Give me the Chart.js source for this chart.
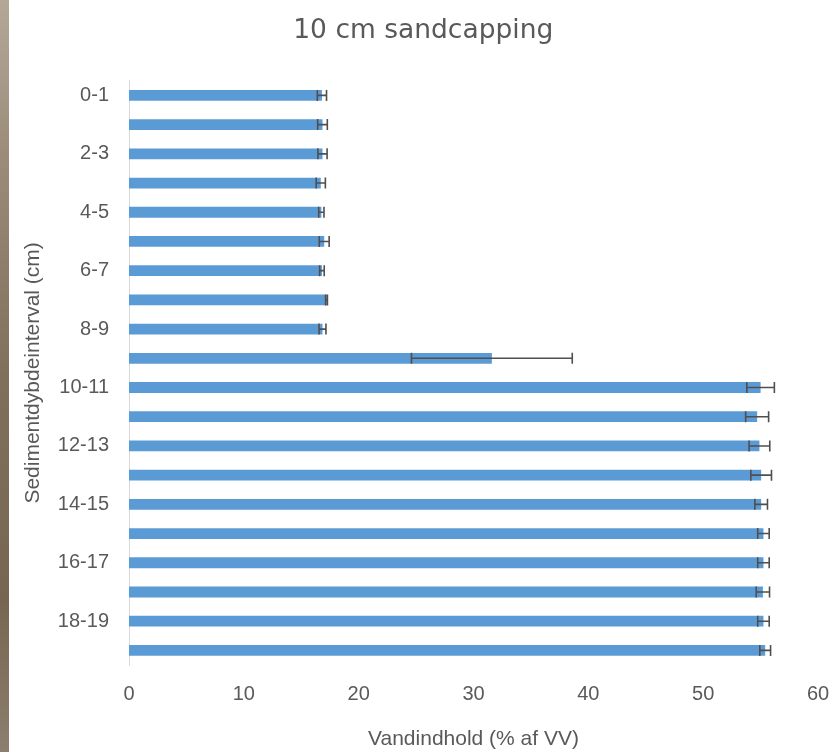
<!DOCTYPE html>
<html>
<head>
<meta charset="utf-8">
<script src="https://cdn.jsdelivr.net/npm/chart.js@4/dist/chart.umd.min.js"></script>
<style>
  html, body { margin: 0; padding: 0; background: #ffffff; }
  body { width: 836px; height: 752px; position: relative; overflow: hidden; }
  #strip { position: absolute; left: 0; top: 0; width: 9px; height: 752px;
    background: linear-gradient(to bottom, #b3a898 0%, #9c8d7a 20%, #7f705c 50%, #766651 80%, #8d7f6e 100%); }
  #wrap { position: absolute; left: 10px; top: 0; width: 826px; height: 752px; }
</style>
</head>
<body>
<div id="strip"></div>
<div id="wrap"><canvas id="c" width="826" height="752"></canvas></div>
<script>
// Data
const categories = ['0-1','1-2','2-3','3-4','4-5','5-6','6-7','7-8','8-9','9-10',
                    '10-11','11-12','12-13','13-14','14-15','15-16','16-17','17-18','18-19','19-20'];
const waterContent = [16.8, 16.85, 16.85, 16.7, 16.75, 17.0, 16.8, 17.2, 16.85, 31.6,
                      55.0, 54.7, 54.9, 55.05, 55.05, 55.25, 55.25, 55.2, 55.25, 55.4];
const errorValues = [0.4, 0.42, 0.4, 0.4, 0.23, 0.43, 0.2, 0.08, 0.3, 7.0,
                     1.2, 1.0, 0.9, 0.9, 0.55, 0.5, 0.5, 0.58, 0.5, 0.47];
const xTicks = [0, 10, 20, 30, 40, 50, 60];

const errorBarPlugin = {
  id: 'errorBars',
  afterDatasetsDraw(chart) {
    const ctx = chart.ctx;
    const xScale = chart.scales.x;
    const meta = chart.getDatasetMeta(0);
    ctx.save();
    ctx.strokeStyle = '#4f4f4f';
    ctx.lineWidth = 1.6;
    meta.data.forEach((bar, i) => {
      const v = waterContent[i], e = errorValues[i];
      const x1 = xScale.getPixelForValue(v - e);
      const x2 = xScale.getPixelForValue(v + e);
      const y = bar.y;
      const h = 5.5;
      ctx.beginPath();
      ctx.moveTo(x1, y); ctx.lineTo(x2, y);
      ctx.moveTo(x1, y - h); ctx.lineTo(x1, y + h);
      ctx.moveTo(x2, y - h); ctx.lineTo(x2, y + h);
      ctx.stroke();
    });
    ctx.restore();
  }
};

const tickFont = { family: "'Liberation Sans', Arial, sans-serif", size: 20 };
const titleFont = { family: "'Liberation Sans', Arial, sans-serif", size: 21 };

new Chart(document.getElementById('c'), {
  type: 'bar',
  data: {
    labels: categories,
    datasets: [{
      data: waterContent,
      backgroundColor: '#5b9bd5',
      borderWidth: 0,
      categoryPercentage: 1.0,
      barPercentage: 0.37
    }]
  },
  options: {
    indexAxis: 'y',
    responsive: false,
    animation: false,
    devicePixelRatio: 1,
    layout: { padding: { left: 0, right: 18, top: 0, bottom: 0 } },
    plugins: {
      legend: { display: false },
      tooltip: { enabled: false },
      title: {
        display: true,
        text: '\u2002\u200910 cm sandcapping',
        color: '#595959',
        font: { family: "'DejaVu Sans', sans-serif", size: 26.5, weight: 'normal' },
        padding: { top: 15, bottom: 34 }
      }
    },
    scales: {
      x: {
        min: 0, max: 60,
        afterBuildTicks(scale) { scale.ticks = xTicks.map(v => ({ value: v })); },
        grid: { display: false, drawTicks: false },
        border: { display: false },
        ticks: { color: '#595959', font: tickFont, padding: 17, maxRotation: 0 },
        title: { display: true, text: 'Vandindhold (% af VV)', color: '#595959', font: titleFont, padding: { top: 0, bottom: 0 } },
        afterFit(scale) { scale.height = 87; scale.paddingRight = 0; scale.paddingLeft = 0; }
      },
      y: {
        grid: { display: false, drawTicks: false },
        border: { display: true, color: '#d9d9d9', width: 1 },
        ticks: {
          color: '#595959', font: tickFont, padding: 20, autoSkip: false,
          callback: (v, i) => (i % 2 === 0 ? categories[i] : '')
        },
        title: { display: true, text: 'Sedimentdybdeinterval (cm)', color: '#595959', font: titleFont, padding: { top: 11, bottom: 0 } },
        afterFit(scale) { scale.width = 119; scale.paddingTop = 0; scale.paddingBottom = 0; }
      }
    }
  },
  plugins: [errorBarPlugin]
});
</script>
</body>
</html>
